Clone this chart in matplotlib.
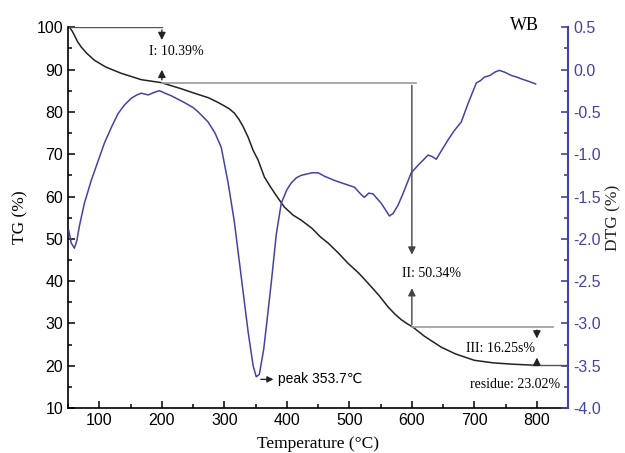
import matplotlib
matplotlib.use('Agg')
import matplotlib.pyplot as plt
from matplotlib.ticker import MultipleLocator

# TG curve (temperature in C, mass %)
tg_temp = [52, 56, 60, 65, 71, 80, 92, 110, 135, 167, 199, 230, 252, 275, 290, 300, 308,
           316, 323, 330, 338, 346, 354, 364, 375, 385, 396, 410, 423, 440, 454, 466,
           482, 498, 515, 530, 547, 562, 573, 583, 592, 602, 620, 647, 670, 700, 730,
           760, 800]
tg_val = [100, 99.2, 98.1, 96.6, 95.3, 93.8, 92.2, 90.6, 89.1, 87.6, 86.9, 85.5, 84.4,
          83.3, 82.2, 81.4, 80.7, 79.7, 78.3, 76.5, 74.0, 70.9, 68.6, 64.6, 62.0, 59.8,
          57.5, 55.6, 54.4, 52.5, 50.4, 49.0, 46.7, 44.2, 41.9, 39.5, 36.7, 33.9, 32.2,
          30.9, 30.0, 29.1, 27.0, 24.4, 22.8, 21.3, 20.7, 20.4, 20.1]

# DTG curve
dtg_temp = [51, 55, 60, 64, 68, 76, 87, 97, 108, 120, 130, 140, 151, 160, 167, 178, 188,
            196, 205, 215, 236, 250, 258, 274, 285, 295, 306, 316, 327, 338, 346, 351,
            356, 363, 370, 375, 383, 391, 400, 407, 415, 423, 440, 450, 460, 476, 492,
            508, 518, 524, 531, 538, 545, 551, 558, 564, 570, 578, 585, 592, 599, 610,
            618, 626, 633, 639, 648, 658, 668, 679, 690, 703, 710, 716, 725, 733, 740,
            748, 759, 768, 775, 787, 798]
dtg_val = [-1.90, -2.05, -2.11, -2.02, -1.85, -1.58, -1.31, -1.10, -0.87, -0.67, -0.52,
           -0.42, -0.34, -0.30, -0.28, -0.30, -0.27, -0.25, -0.28, -0.31, -0.39, -0.45,
           -0.50, -0.62, -0.75, -0.92, -1.34, -1.80, -2.45, -3.10, -3.50, -3.63, -3.60,
           -3.30, -2.85, -2.52, -1.95, -1.58, -1.42, -1.34, -1.28, -1.25, -1.22, -1.22,
           -1.26, -1.31, -1.35, -1.39, -1.47, -1.51, -1.46, -1.47, -1.53, -1.58, -1.66,
           -1.73, -1.70, -1.60, -1.48, -1.35, -1.22, -1.13, -1.07, -1.01, -1.03, -1.06,
           -0.95, -0.83, -0.72, -0.62, -0.40, -0.16, -0.13, -0.09, -0.07, -0.03, -0.01,
           -0.03, -0.07, -0.09, -0.11, -0.14, -0.17]

step_labels = ['I: 10.39%', 'II: 50.34%', 'III: 16.25s%']

blue = '#4343a6'
serif = 'Liberation Serif'
sans = 'Liberation Sans'

fig = plt.figure(figsize=(6.25, 4.53), dpi=100)
ax = fig.add_axes([0.109, 0.099, 0.800, 0.841])
ax2 = ax.twinx()

ax.plot(tg_temp, tg_val, color='#222222', lw=1.1)
ax2.plot(dtg_temp, dtg_val, color=blue, lw=1.1)

ax.set_xlim(50, 850)
ax.set_ylim(10, 100)
ax2.set_ylim(-4.0, 0.5)

ax.xaxis.set_major_locator(MultipleLocator(100))
ax.xaxis.set_minor_locator(MultipleLocator(50))
ax.yaxis.set_major_locator(MultipleLocator(10))
ax.yaxis.set_minor_locator(MultipleLocator(5))
ax2.yaxis.set_major_locator(MultipleLocator(0.5))
ax2.yaxis.set_minor_locator(MultipleLocator(0.25))

ax.spines['top'].set_visible(False)
ax2.spines['top'].set_visible(False)
ax.spines['right'].set_visible(False)
ax2.spines['left'].set_visible(False)
ax2.spines['bottom'].set_visible(False)
ax2.spines['right'].set_color(blue)
ax2.spines['right'].set_linewidth(1.5)
ax.spines['left'].set_linewidth(1.2)
ax.spines['bottom'].set_linewidth(1.2)

ax.tick_params(which='both', direction='in', labelsize=11.5, width=1.1)
ax.tick_params(which='major', length=5)
ax.tick_params(which='minor', length=3)
ax2.tick_params(which='both', direction='in', colors=blue, labelsize=11.5, width=1.2)
ax2.tick_params(which='major', length=5)
ax2.tick_params(which='minor', length=3)
for lab in ax.get_xticklabels() + ax.get_yticklabels() + ax2.get_yticklabels():
    lab.set_family(sans)
ax2.set_yticklabels(['%.1f' % v for v in ax2.get_yticks()])

ax.set_xlabel('Temperature (°C)', family=serif, fontsize=12.5, labelpad=6)
ax.set_ylabel('TG (%)', family=serif, fontsize=12.5, labelpad=6)
ax2.set_ylabel('DTG (%)', family=serif, fontsize=12.5, color='#222222', labelpad=3)

ax.text(780, 100.4, 'WB', family=serif, fontsize=13, ha='center', va='center')

# step lines and arrows
grey = '#9a9a9a'
ax.plot([52, 200], [100, 100], color='#555555', lw=1)
ax.plot([200, 607], [86.9, 86.9], color=grey, lw=1.2)
ax.plot([600, 826], [29.1, 29.1], color=grey, lw=1.2)
ax.plot([790, 850], [20.1, 20.1], color='#555555', lw=1)

arrow = dict(arrowstyle='-|>', color='#222222', lw=1.0, mutation_scale=11)
# step I
ax.annotate('', xy=(200, 96.3), xytext=(200, 100), arrowprops=arrow)
ax.annotate('', xy=(200, 90.6), xytext=(200, 86.9), arrowprops=arrow)
ax.text(223, 94.3, step_labels[0], family=serif, fontsize=10, ha='center', va='center')
# step II
ax.annotate('', xy=(600, 45.6), xytext=(600, 86.9), arrowprops=dict(arrow, color='#444444'))
ax.annotate('', xy=(600, 39.0), xytext=(600, 29.1), arrowprops=dict(arrow, color='#444444'))
ax.text(631, 41.9, step_labels[1], family=serif, fontsize=10, ha='center', va='center')
# step III
ax.annotate('', xy=(800, 25.8), xytext=(800, 29.1), arrowprops=arrow)
ax.annotate('', xy=(800, 22.6), xytext=(800, 20.1), arrowprops=arrow)
ax.text(797, 24.0, step_labels[2], family=serif, fontsize=10, ha='right', va='center')
ax.text(838, 15.7, 'residue: 23.02%', family=serif, fontsize=10, ha='right', va='center')

# DTG peak label
ax2.annotate('', xy=(383, -3.66), xytext=(354, -3.66),
             arrowprops=dict(arrowstyle='-|>', color='#222222', lw=1.0, mutation_scale=9))
ax2.text(385, -3.66, 'peak 353.7℃', family=[sans, 'DejaVu Sans'], fontsize=10,
         ha='left', va='center')

fig.savefig('out.png', dpi=100)
